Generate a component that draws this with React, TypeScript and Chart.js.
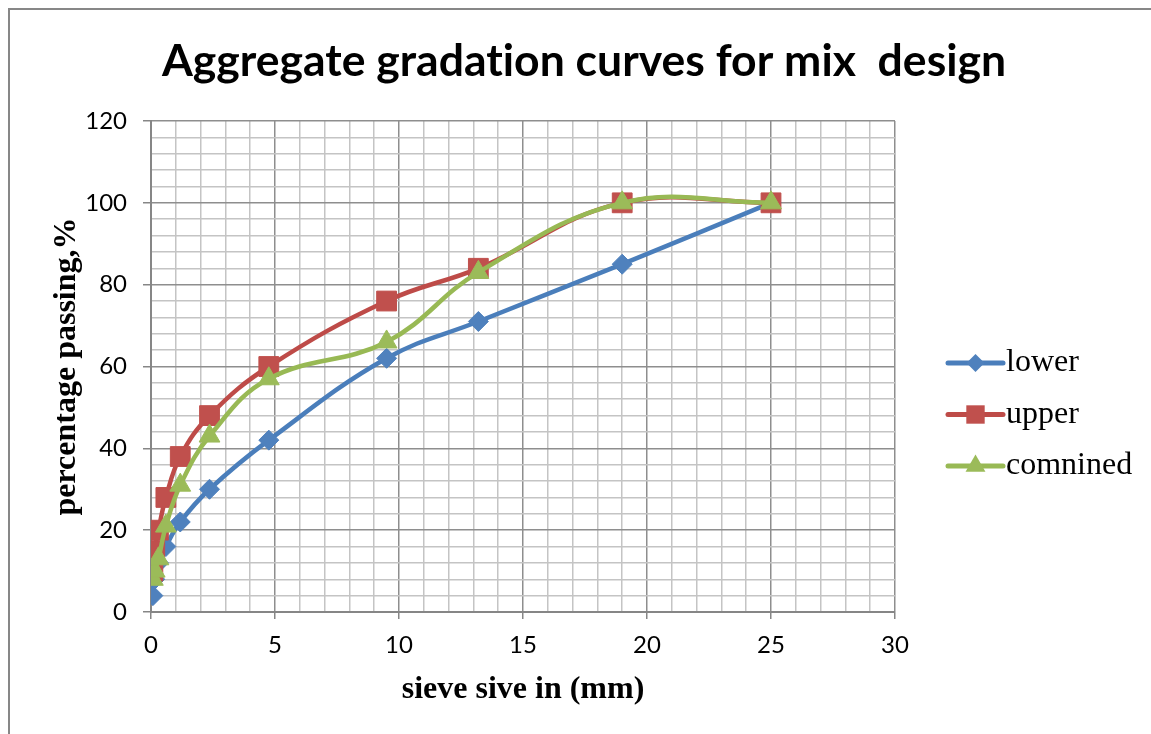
import React, { useEffect, useRef } from "react";
import { Chart, registerables } from "chart.js";

Chart.register(...registerables);

const chartTitle = "Aggregate gradation curves for mix  design";
const xAxisTitle = "sieve sive in (mm)";
const yAxisTitle = "percentage passing,%";

const sieveSizes = [0.075, 0.15, 0.3, 0.6, 1.18, 2.36, 4.75, 9.5, 13.2, 19, 25];
const lowerValues = [4, 8, 12, 16, 22, 30, 42, 62, 71, 85, 100];
const upperValues = [10, 15, 20, 28, 38, 48, 60, 76, 84, 100, 100];
const combinedValues = [8, 10, 13, 21, 31, 43, 57, 66, 83, 100, 100];
const seriesNames = ["lower", "upper", "comnined"];

const xMin = 0;
const xMax = 30;
const xMinorStep = 1;
const xMajorStep = 5;
const yMin = 0;
const yMax = 120;
const yMinorStep = 4;
const yMajorStep = 20;

const lineColors = ["#4a7ebb", "#be4b48", "#98b954"];
const markerColors = ["#4f81bd", "#c0504d", "#9bbb59"];
const markerStyles = ["rectRot", "rect", "triangle"];
const markerRadii = [10, 14, 12];

const MAJOR_GRID = "#8e8e8e";
const MINOR_GRID = "#c4c4c4";
const AXIS_COLOR = "#868686";

function toPoints(values: number[]) {
  return sieveSizes.map((x, i) => ({ x, y: values[i] }));
}

function drawMarker(ctx: CanvasRenderingContext2D, style: string, x: number, y: number, r: number) {
  ctx.beginPath();
  if (style === "rectRot") {
    ctx.moveTo(x - r, y);
    ctx.lineTo(x, y - r);
    ctx.lineTo(x + r, y);
    ctx.lineTo(x, y + r);
  } else if (style === "rect") {
    const s = r * Math.SQRT1_2;
    ctx.rect(x - s, y - s, 2 * s, 2 * s);
  } else {
    ctx.moveTo(x, y - r);
    ctx.lineTo(x + Math.sin((2 * Math.PI) / 3) * r, y - Math.cos((2 * Math.PI) / 3) * r);
    ctx.lineTo(x + Math.sin((4 * Math.PI) / 3) * r, y - Math.cos((4 * Math.PI) / 3) * r);
  }
  ctx.closePath();
  ctx.fill();
}

const titlePlugin = {
  id: "customTitle",
  afterDraw(chart: any) {
    const ctx = chart.ctx as any;
    ctx.save();
    ctx.font = "bold 44.5px Lato";
    try {
      ctx.letterSpacing = "0.01px";
    } catch (e) {}
    ctx.fillStyle = "#000";
    ctx.textAlign = "center";
    ctx.textBaseline = "middle";
    ctx.fillText(chartTitle, 584, 62);
    ctx.restore();
  },
};

const legendPlugin = {
  id: "sideLegend",
  afterDraw(chart: any) {
    const ctx = chart.ctx as CanvasRenderingContext2D;
    const right = chart.chartArea.right;
    const x0 = right + 53;
    const x1 = right + 108;
    const xm = (x0 + x1) / 2;
    ctx.save();
    seriesNames.forEach((name, i) => {
      const y = 363 + i * 51.5;
      ctx.strokeStyle = lineColors[i];
      ctx.lineWidth = 5;
      ctx.lineCap = "round";
      ctx.beginPath();
      ctx.moveTo(x0, y);
      ctx.lineTo(x1, y);
      ctx.stroke();
      ctx.fillStyle = markerColors[i];
      drawMarker(ctx, markerStyles[i], xm, y, markerStyles[i] === "rectRot" ? 9 : markerStyles[i] === "rect" ? 13 : 11.5);
      ctx.fillStyle = "#000";
      ctx.font = "32px 'Liberation Serif'";
      ctx.textAlign = "left";
      ctx.textBaseline = "middle";
      ctx.fillText(name, x1 + 3, y);
    });
    ctx.restore();
  },
};

export default function App() {
  const canvasRef = useRef<HTMLCanvasElement>(null);

  useEffect(() => {
    const valueSets = [lowerValues, upperValues, combinedValues];
    const chart = new Chart(canvasRef.current!, {
      type: "line",
      data: {
        datasets: seriesNames.map((name, i) => ({
          label: name,
          data: toPoints(valueSets[i]),
          borderColor: lineColors[i],
          backgroundColor: markerColors[i],
          pointBackgroundColor: markerColors[i],
          pointBorderColor: markerColors[i],
          pointBorderWidth: 1,
          pointStyle: markerStyles[i] as any,
          pointRadius: markerRadii[i],
          pointHoverRadius: markerRadii[i],
          borderWidth: 4.5,
          tension: 0.4,
          fill: false,
          order: 3 - i,
        })),
      },
      options: {
        responsive: false,
        animation: false,
        layout: { padding: { top: 121, right: 256, bottom: 0, left: 0 } },
        plugins: {
          legend: { display: false },
          title: { display: false },
          tooltip: { enabled: false },
        },
        scales: {
          x: {
            type: "linear",
            min: xMin,
            max: xMax,
            afterFit: (scale: any) => {
              scale.height = 122;
            },
            ticks: {
              stepSize: xMinorStep,
              autoSkip: false,
              maxRotation: 0,
              padding: 12,
              color: "#000",
              font: { family: "Lato", size: 24 },
              callback: (v: any) => (Number(v) % xMajorStep === 0 ? String(v) : ""),
            },
            grid: {
              color: (c: any) => (c.tick && c.tick.value % xMajorStep === 0 ? MAJOR_GRID : MINOR_GRID),
              tickColor: (c: any) => (c.tick && c.tick.value % xMajorStep === 0 ? AXIS_COLOR : "rgba(0,0,0,0)"),
              lineWidth: 1.5,
              tickLength: 7,
            },
            border: { color: AXIS_COLOR, width: 2 },
            title: {
              display: true,
              text: xAxisTitle,
              color: "#000",
              font: { family: "'Liberation Serif'", size: 32, weight: "bold" },
              padding: { top: 0, bottom: 25 },
            },
          },
          y: {
            type: "linear",
            min: yMin,
            max: yMax,
            afterFit: (scale: any) => {
              scale.width = 151;
            },
            ticks: {
              stepSize: yMinorStep,
              autoSkip: false,
              padding: 16,
              color: "#000",
              font: { family: "Lato", size: 24 },
              callback: (v: any) => (Number(v) % yMajorStep === 0 ? String(v) : ""),
            },
            grid: {
              color: (c: any) => (c.tick && c.tick.value % yMajorStep === 0 ? MAJOR_GRID : MINOR_GRID),
              tickColor: (c: any) => (c.tick && c.tick.value % yMajorStep === 0 ? AXIS_COLOR : "rgba(0,0,0,0)"),
              lineWidth: 1.5,
              tickLength: 8,
            },
            border: { color: AXIS_COLOR, width: 2 },
            title: {
              display: true,
              text: yAxisTitle,
              color: "#000",
              font: { family: "'Liberation Serif'", size: 32, weight: "bold" },
              padding: { top: 48, bottom: 0 },
            },
          },
        },
      },
      plugins: [titlePlugin, legendPlugin],
    } as any);
    return () => chart.destroy();
  }, []);

  return (
    <div
      style={{
        position: "fixed",
        left: 0,
        top: 0,
        width: 1151,
        height: 734,
        overflow: "hidden",
        background: "#fff",
      }}
    >
      <div
        style={{
          position: "absolute",
          left: 8,
          top: 8,
          width: 1300,
          height: 900,
          borderLeft: "2px solid #878787",
          borderTop: "2px solid #878787",
        }}
      />
      <canvas
        ref={canvasRef}
        width={1151}
        height={734}
        style={{ position: "absolute", left: 0, top: 0, width: 1151, height: 734 }}
      />
    </div>
  );
}
